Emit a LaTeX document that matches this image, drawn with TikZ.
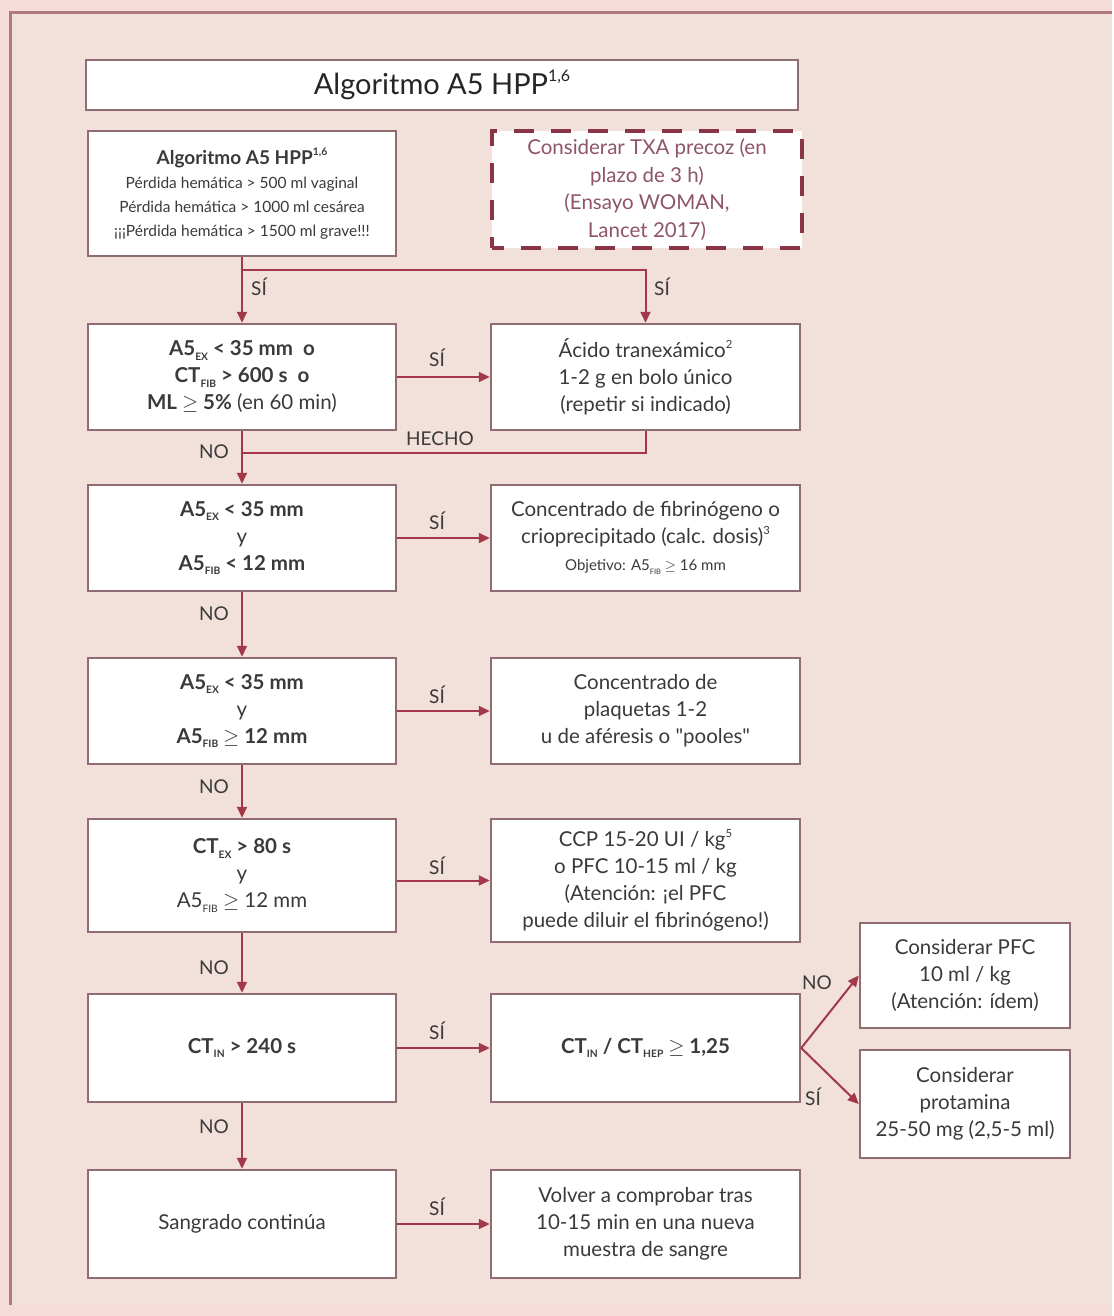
\documentclass[tikz,border=0pt]{standalone}
\usepackage{fontspec}
\usepackage{graphicx}
\setmainfont{Lato}
\usetikzlibrary{arrows.meta}

\definecolor{outerpink}{HTML}{F6DCD9}
\definecolor{bgpink}{HTML}{F2E0DA}
\definecolor{framecol}{HTML}{B07A80}
\definecolor{boxline}{HTML}{8E6C72}
\definecolor{arrowcol}{HTML}{A3384B}
\definecolor{txt}{HTML}{3A3A3A}
\definecolor{dashtxt}{HTML}{8E5567}
\definecolor{dashline}{HTML}{8A3447}

% small lowered index used in A5_EX, CT_FIB, ...
\newcommand\sbx[1]{\raisebox{-0.45ex}{\scalebox{0.5}{#1}}}
% small footnote mark
\newcommand\spx[1]{\raisebox{0.9ex}{\scalebox{0.55}{#1}}}
\newcommand\geqs{\ensuremath{\geq}}

\tikzset{
  box/.style={draw=boxline, line width=2.5pt, fill=white, align=center,
    text=txt, inner sep=2pt, font=\fontsize{20.5}{27}\selectfont},
  lbox/.style={box, minimum width=308pt, minimum height=106pt},
  rbox/.style={box, minimum width=309pt, minimum height=106pt},
  sbox/.style={box, minimum width=210pt},
  dbox/.style={draw=dashline, line width=3.5pt, dash pattern=on 20pt off 17pt,
    dash phase=8pt, fill=white, align=center, text=dashtxt,
    font=\fontsize{20.5}{27.7}\selectfont, minimum width=310pt, minimum height=117pt},
  link/.style={draw=arrowcol, line width=2pt},
  arr/.style={link, -{Triangle[length=11pt,width=10pt]}},
  lab/.style={text=txt, font=\fontsize{19}{22}\selectfont, inner sep=0pt},
}

\begin{document}
\begin{tikzpicture}[x=1pt,y=-1pt]
  % page background and frame
  \fill[outerpink] (0,0) rectangle (1112,1316);
  \fill[bgpink] (10,13) rectangle (1112,1305);
  \draw[framecol, line width=3pt] (10,1305) -- (10,13) -- (1112,13);
  \useasboundingbox (0,0) rectangle (1112,1316);

  % title
  \node[box, minimum width=712pt, minimum height=50pt,
        font=\fontsize{29}{32}\selectfont, text=black!85] (title) at (442,85)
        {Algoritmo A5 HPP\spx{1,6}};

  % entry criteria
  \node[box, minimum width=308pt, minimum height=125pt] (b1) at (242,193.5)
    {{\fontsize{19}{24}\selectfont\bfseries Algoritmo A5 HPP\spx{1,6}}\\[-3pt]
     {\fontsize{15.5}{19}\selectfont Pérdida hemática > 500 ml vaginal}\\[-3pt]
     {\fontsize{15.5}{19}\selectfont Pérdida hemática > 1000 ml cesárea}\\[-3pt]
     {\fontsize{15.5}{19}\selectfont ¡¡¡Pérdida hemática > 1500 ml grave!!!}};

  \node[dbox] (txa) at (647,189.5)
    {Considerar TXA precoz (en\\ plazo de 3 h)\\ (Ensayo WOMAN,\\ Lancet 2017)};

  % decision column
  \node[lbox] (c1) at (242,377)
    {\textbf{A5\sbx{EX} < 35 mm\ \ o}\\ \textbf{CT\sbx{FIB} > 600 s\ \ o}\\ \textbf{ML \geqs{} 5\%} (en 60 min)};
  \node[lbox] (c2) at (242,538)
    {\textbf{A5\sbx{EX} < 35 mm}\\ y\\ \textbf{A5\sbx{FIB} < 12 mm}};
  \node[lbox] (c3) at (242,711)
    {\textbf{A5\sbx{EX} < 35 mm}\\ y\\ \textbf{A5\sbx{FIB} \geqs{} 12 mm}};
  \node[lbox, minimum height=113pt] (c4) at (242,875.5)
    {\textbf{CT\sbx{EX} > 80 s}\\ y\\ A5\sbx{FIB} \geqs{} 12 mm};
  \node[lbox, minimum height=108pt] (c5) at (242,1048)
    {\textbf{CT\sbx{IN} > 240 s}};
  \node[lbox, minimum height=108pt] (c6) at (242,1224)
    {Sangrado continúa};

  % action column
  \node[rbox] (a1) at (645.5,377)
    {Ácido tranexámico\spx{2}\\ 1-2 g en bolo único\\ (repetir si indicado)};
  \node[rbox] (a2) at (645.5,538)
    {Concentrado de fibrinógeno o\\ crioprecipitado (calc. dosis)\spx{3}\\
     {\fontsize{15}{20}\selectfont Objetivo: A5\sbx{FIB} \geqs{} 16 mm}};
  \node[rbox] (a3) at (645.5,711)
    {Concentrado de\\ plaquetas 1-2\\ u de aféresis o \textquotedbl{}pooles\textquotedbl};
  \node[rbox, minimum height=123pt] (a4) at (645.5,880.5)
    {CCP 15-20 UI / kg\spx{5}\\ o PFC 10-15 ml / kg\\ (Atención: ¡el PFC\\ puede diluir el fibrinógeno!)};
  \node[rbox, minimum height=108pt] (a5) at (645.5,1048)
    {\textbf{CT\sbx{IN} / CT\sbx{HEP} \geqs{} 1,25}};
  \node[rbox, minimum height=108pt] (a6) at (645.5,1224)
    {Volver a comprobar tras\\ 10-15 min en una nueva\\ muestra de sangre};

  % heparin branch
  \node[sbox, minimum height=105pt] (pfc) at (965,975.5)
    {Considerar PFC\\ 10 ml / kg\\ (Atención: ídem)};
  \node[sbox, minimum height=108pt] (prot) at (965,1104)
    {Considerar\\ protamina\\ 25-50 mg (2,5-5 ml)};

  % connectors
  \coordinate (j1) at (242,270);
  \coordinate (hecho) at (242,453);
  \draw[arr] (b1.south) -- (c1.north);
  \draw[arr] (j1) -| (a1.north);
  \draw[link] (a1.south) |- (hecho);
  \draw[arr] (c1.east) -- (a1.west);
  \draw[arr] (c1.south) -- (c2.north);
  \draw[arr] (c2.east) -- (a2.west);
  \draw[arr] (c2.south) -- (c3.north);
  \draw[arr] (c3.east) -- (a3.west);
  \draw[arr] (c3.south) -- (c4.north);
  \draw[arr] (c4.east |- a4.west) -- (a4.west);
  \draw[arr] (c4.south) -- (c5.north);
  \draw[arr] (c5.east) -- (a5.west);
  \draw[arr] (c5.south) -- (c6.north);
  \draw[arr] (c6.east) -- (a6.west);
  \draw[arr] (a5.east) -- (pfc.west);
  \draw[arr] (a5.east) -- (prot.west);

  % connector labels
  \node[lab] (l1) at (259,287) {SÍ};
  \node[lab] (l2) at (662,287) {SÍ};
  \node[lab] (l3) at (437,358) {SÍ};
  \node[lab] (l4) at (440,439) {HECHO};
  \node[lab] (l5) at (214,452) {NO};
  \node[lab] (l6) at (437,521) {SÍ};
  \node[lab] (l7) at (214,614) {NO};
  \node[lab] (l8) at (437,695) {SÍ};
  \node[lab] (l9) at (214,787) {NO};
  \node[lab] (l10) at (437,866) {SÍ};
  \node[lab] (l11) at (214,968) {NO};
  \node[lab] (l12) at (437,1031) {SÍ};
  \node[lab] (l13) at (817,983) {NO};
  \node[lab] (l14) at (813,1097) {SÍ};
  \node[lab] (l15) at (214,1127) {NO};
  \node[lab] (l16) at (437,1207) {SÍ};
\end{tikzpicture}
\end{document}
